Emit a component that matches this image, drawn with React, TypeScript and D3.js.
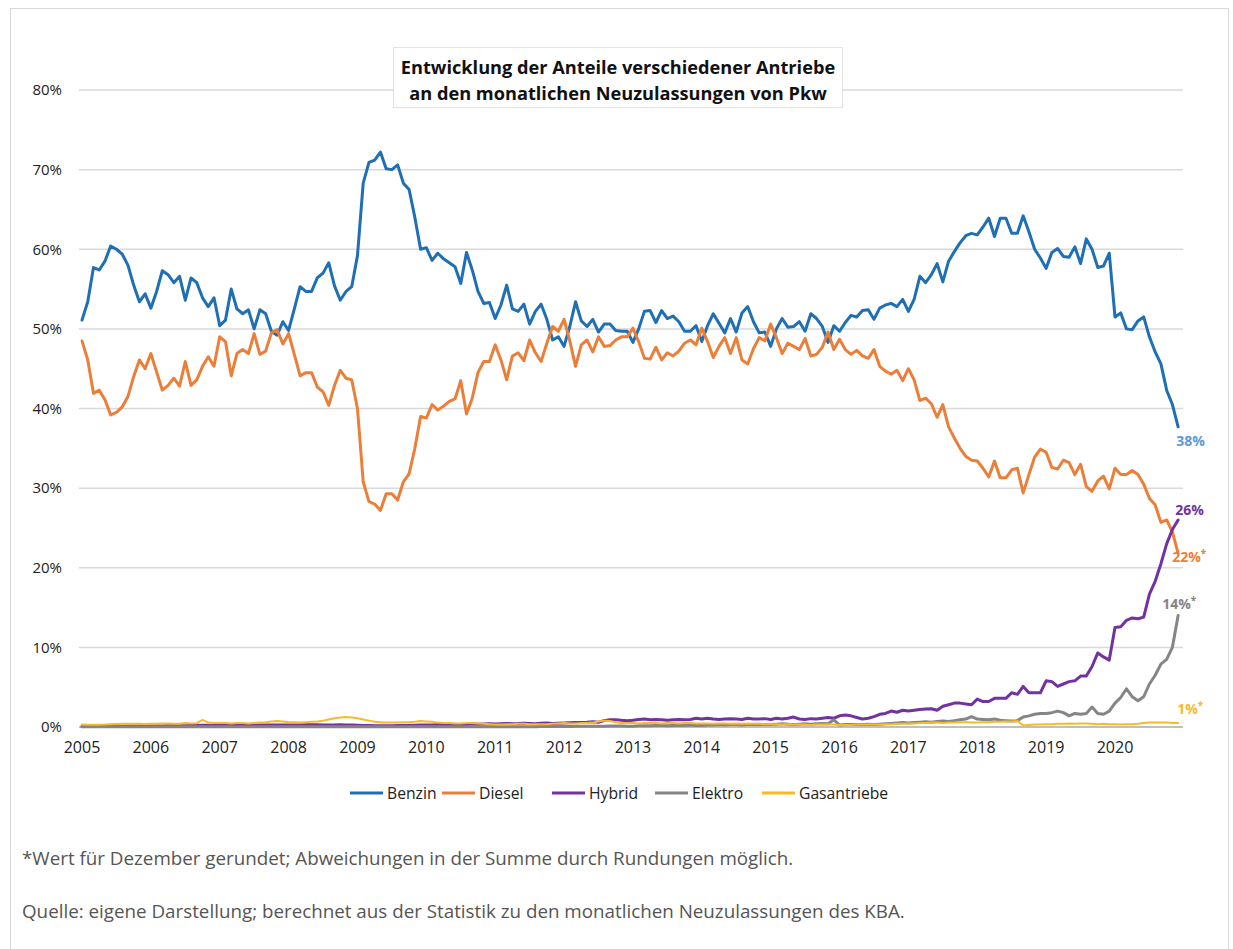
import React from 'react';
import * as d3 from 'd3';

// monthly shares in %, Jan 2005 .. Dec 2020
const benzin = [
  51.1, 53.4, 57.7, 57.4, 58.5, 60.4, 60.0, 59.4, 58.0, 55.5, 53.4, 54.4,
  52.6, 54.7, 57.3, 56.8, 55.8, 56.6, 53.6, 56.4, 55.8, 53.9, 52.8, 53.9,
  50.4, 51.1, 55.0, 52.5, 51.9, 52.4, 50.0, 52.4, 51.9, 49.7, 49.2, 50.9,
  49.8, 52.5, 55.3, 54.7, 54.7, 56.4, 57.0, 58.3, 55.4, 53.6, 54.7, 55.3,
  59.2, 68.3, 70.9, 71.2, 72.2, 70.1, 70.0, 70.6, 68.3, 67.5, 64.0, 60.0,
  60.2, 58.6, 59.5, 58.8, 58.3, 57.8, 55.7, 59.6, 57.4, 54.7, 53.2, 53.3,
  51.3, 53.0, 55.5, 52.5, 52.2, 53.1, 50.6, 52.2, 53.1, 51.2, 48.6, 49.0,
  47.8, 50.3, 53.4, 51.0, 50.3, 51.2, 49.6, 50.6, 50.6, 49.8, 49.7, 49.7,
  48.3, 50.0, 52.2, 52.3, 50.8, 52.3, 51.3, 51.6, 50.9, 49.7, 49.7, 50.4,
  48.4, 50.4, 51.9, 50.7, 49.5, 51.3, 49.6, 52.0, 52.8, 50.9, 49.5, 49.6,
  47.8, 50.0, 51.3, 50.2, 50.3, 50.9, 49.7, 51.9, 51.3, 50.3, 48.3, 50.4,
  49.7, 50.8, 51.7, 51.5, 52.3, 52.4, 51.2, 52.6, 53.0, 53.2, 52.8, 53.7,
  52.2, 53.7, 56.6, 55.8, 56.8, 58.2, 55.9, 58.5, 59.7, 60.8, 61.7, 62.0,
  61.8, 62.8, 63.9, 61.6, 63.9, 63.9, 62.0, 62.0, 64.2, 62.2, 60.0, 58.9,
  57.6, 59.6, 60.1, 59.1, 59.0, 60.3, 58.2, 61.3, 60.0, 57.7, 57.9, 59.5,
  51.5, 52.0, 50.0, 49.9, 51.0, 51.5, 49.0, 47.1, 45.6, 42.3, 40.5, 37.7,
];

const diesel = [
  48.5, 46.1, 41.9, 42.3, 41.1, 39.2, 39.5, 40.2, 41.5, 44.0, 46.1, 45.0,
  46.9, 44.6, 42.3, 42.9, 43.8, 42.8, 45.9, 42.9, 43.6, 45.3, 46.5, 45.3,
  49.0, 48.4, 44.1, 46.9, 47.4, 46.9, 49.4, 46.8, 47.2, 49.5, 49.9, 48.1,
  49.4, 46.8, 44.1, 44.5, 44.5, 42.7, 42.1, 40.4, 42.9, 44.8, 43.8, 43.6,
  40.0, 30.8, 28.3, 28.0, 27.2, 29.3, 29.3, 28.5, 30.8, 31.8, 35.0, 39.0,
  38.8, 40.5, 39.8, 40.3, 40.9, 41.2, 43.5, 39.3, 41.3, 44.5, 45.9, 45.9,
  48.0, 46.1, 43.6, 46.6, 47.0, 46.0, 48.6, 47.0, 45.9, 48.2, 50.3, 49.7,
  51.2, 48.5, 45.3, 48.0, 48.6, 47.1, 49.0, 47.8, 47.9, 48.6, 49.0, 49.0,
  50.1, 48.4, 46.3, 46.2, 47.7, 46.1, 47.0, 46.6, 47.2, 48.2, 48.6, 48.0,
  50.1, 48.4, 46.4, 47.8, 48.9, 46.9, 48.9, 46.1, 45.6, 47.5, 48.9, 48.5,
  50.6, 48.9, 46.9, 48.2, 47.8, 47.4, 48.8, 46.6, 46.8, 47.7, 49.6, 47.4,
  48.7, 47.4, 46.8, 47.3, 46.6, 46.3, 47.4, 45.3, 44.7, 44.3, 44.8, 43.5,
  45.0, 43.6, 41.0, 41.3, 40.6, 38.9, 40.5, 37.7, 36.3, 35.0, 34.0, 33.5,
  33.4, 32.5, 31.4, 33.4, 31.3, 31.3, 32.3, 32.5, 29.4, 31.7, 33.9, 34.9,
  34.5, 32.6, 32.4, 33.5, 33.2, 31.7, 33.0, 30.2, 29.6, 30.9, 31.5, 29.9,
  32.5, 31.7, 31.7, 32.2, 31.7, 30.5, 28.7, 27.9, 25.7, 26.0, 24.5, 21.8,
];

const hybrid = [
  0.08, 0.09, 0.1, 0.1, 0.1, 0.11, 0.1, 0.1, 0.11, 0.12, 0.12, 0.12,
  0.12, 0.13, 0.14, 0.15, 0.16, 0.16, 0.17, 0.18, 0.2, 0.22, 0.22, 0.2,
  0.2, 0.22, 0.24, 0.25, 0.25, 0.24, 0.23, 0.24, 0.25, 0.26, 0.25, 0.24,
  0.24, 0.25, 0.26, 0.27, 0.28, 0.27, 0.26, 0.25, 0.26, 0.27, 0.25, 0.24,
  0.22, 0.2, 0.18, 0.17, 0.16, 0.16, 0.17, 0.18, 0.19, 0.2, 0.22, 0.24,
  0.25, 0.26, 0.27, 0.28, 0.28, 0.29, 0.3, 0.32, 0.4, 0.35, 0.38, 0.4,
  0.38, 0.42, 0.45, 0.42, 0.44, 0.48, 0.45, 0.42, 0.48, 0.5, 0.45, 0.48,
  0.5, 0.52, 0.55, 0.58, 0.6, 0.65, 0.6, 0.8, 0.9, 0.92, 0.85, 0.8,
  0.85, 0.95, 1.0, 0.9, 0.95, 0.9, 0.85, 0.9, 0.95, 0.9, 0.95, 1.1,
  1.0, 1.1, 1.0, 0.95, 1.0, 1.05, 1.0, 0.95, 1.1, 1.0, 1.0, 1.05,
  0.95, 1.1, 1.0, 1.1, 1.25, 1.0, 0.95, 1.05, 1.0, 1.1, 1.2, 1.1,
  1.4, 1.5, 1.4, 1.2, 1.0, 1.1, 1.3, 1.6, 1.7, 2.0, 1.85, 2.1,
  2.0, 2.1, 2.2, 2.25, 2.3, 2.1, 2.6, 2.8, 3.0, 3.0, 2.9, 2.8,
  3.5, 3.2, 3.2, 3.6, 3.6, 3.6, 4.3, 4.1, 5.1, 4.3, 4.3, 4.3,
  5.8, 5.7, 5.1, 5.4, 5.7, 5.8, 6.4, 6.4, 7.6, 9.3, 8.8, 8.4,
  12.5, 12.6, 13.4, 13.7, 13.6, 13.8, 16.7, 18.3, 20.5, 23.0, 24.8, 26.0,
];

const elektro = [
  0.02, 0.02, 0.02, 0.02, 0.02, 0.02, 0.02, 0.02, 0.02, 0.02, 0.02, 0.02,
  0.02, 0.02, 0.02, 0.02, 0.02, 0.02, 0.02, 0.02, 0.02, 0.02, 0.02, 0.02,
  0.02, 0.02, 0.02, 0.02, 0.02, 0.02, 0.02, 0.02, 0.02, 0.02, 0.02, 0.02,
  0.02, 0.02, 0.02, 0.02, 0.02, 0.02, 0.02, 0.02, 0.02, 0.02, 0.02, 0.02,
  0.02, 0.02, 0.02, 0.02, 0.02, 0.02, 0.02, 0.02, 0.02, 0.02, 0.02, 0.02,
  0.03, 0.03, 0.03, 0.03, 0.03, 0.03, 0.03, 0.03, 0.03, 0.03, 0.03, 0.03,
  0.03, 0.03, 0.04, 0.04, 0.04, 0.04, 0.04, 0.04, 0.05, 0.05, 0.05, 0.05,
  0.05, 0.05, 0.08, 0.08, 0.1, 0.1, 0.1, 0.1, 0.12, 0.12, 0.12, 0.1,
  0.1, 0.15, 0.15, 0.15, 0.2, 0.2, 0.15, 0.2, 0.2, 0.2, 0.25, 0.2,
  0.2, 0.25, 0.25, 0.3, 0.25, 0.3, 0.3, 0.25, 0.3, 0.3, 0.35, 0.3,
  0.3, 0.35, 0.4, 0.35, 0.3, 0.35, 0.4, 0.35, 0.4, 0.45, 0.4, 0.9,
  0.25, 0.3, 0.3, 0.3, 0.3, 0.35, 0.3, 0.35, 0.4, 0.45, 0.5, 0.55,
  0.5, 0.55, 0.6, 0.65, 0.6, 0.7, 0.75, 0.7, 0.8, 0.9, 1.0, 1.3,
  1.0, 0.95, 0.9, 1.0, 0.85, 0.8, 0.75, 0.8, 1.25, 1.4, 1.6, 1.7,
  1.7, 1.8, 2.0, 1.8, 1.4, 1.7, 1.6, 1.7, 2.5, 1.7, 1.6, 2.0,
  3.0, 3.7, 4.8, 3.8, 3.3, 3.8, 5.4, 6.5, 7.9, 8.5, 10.0, 14.0,
];

const gas = [
  0.3, 0.28, 0.27, 0.27, 0.3, 0.35, 0.38, 0.4, 0.4, 0.42, 0.4, 0.38,
  0.4, 0.42, 0.45, 0.45, 0.42, 0.4, 0.5, 0.45, 0.48, 0.9, 0.55, 0.5,
  0.5, 0.5, 0.45, 0.5, 0.5, 0.45, 0.5, 0.55, 0.6, 0.7, 0.75, 0.7,
  0.6, 0.6, 0.55, 0.6, 0.65, 0.7, 0.8, 0.95, 1.1, 1.2, 1.25, 1.2,
  1.1, 0.95, 0.8, 0.65, 0.6, 0.55, 0.55, 0.55, 0.6, 0.6, 0.65, 0.75,
  0.7, 0.65, 0.55, 0.5, 0.5, 0.45, 0.45, 0.5, 0.5, 0.45, 0.4, 0.35,
  0.3, 0.3, 0.35, 0.35, 0.4, 0.4, 0.35, 0.35, 0.35, 0.35, 0.4, 0.45,
  0.5, 0.45, 0.45, 0.5, 0.5, 0.55, 0.7, 0.8, 0.75, 0.6, 0.5, 0.5,
  0.5, 0.45, 0.5, 0.5, 0.5, 0.45, 0.5, 0.5, 0.45, 0.5, 0.5, 0.45,
  0.45, 0.45, 0.4, 0.45, 0.45, 0.4, 0.45, 0.4, 0.45, 0.4, 0.4, 0.35,
  0.35, 0.35, 0.3, 0.35, 0.3, 0.3, 0.3, 0.25, 0.3, 0.3, 0.3, 0.3,
  0.25, 0.25, 0.25, 0.3, 0.3, 0.3, 0.3, 0.3, 0.35, 0.35, 0.4, 0.4,
  0.45, 0.45, 0.5, 0.5, 0.55, 0.55, 0.5, 0.55, 0.55, 0.6, 0.6, 0.55,
  0.55, 0.6, 0.6, 0.65, 0.65, 0.7, 0.7, 0.75, 0.2, 0.25, 0.3, 0.3,
  0.35, 0.35, 0.4, 0.4, 0.45, 0.4, 0.45, 0.45, 0.4, 0.35, 0.4, 0.35,
  0.35, 0.3, 0.35, 0.35, 0.4, 0.5, 0.55, 0.55, 0.55, 0.55, 0.5, 0.5,
];

const seriesNames = ['Benzin', 'Diesel', 'Hybrid', 'Elektro', 'Gasantriebe'];
const seriesColors = ['#1f6fb4', '#eb7f3a', '#7232a0', '#858585', '#f8b92a'];
const endLabels = ['38%', '22%', '26%', '14%', '1%'];
const endLabelStar = [false, true, false, true, true];
const endLabelColors = ['#5b9bd5', '#eb7f3a', '#7232a0', '#858585', '#f8b92a'];
const years = d3.range(2005, 2021);
const yTicks = [0, 10, 20, 30, 40, 50, 60, 70, 80];
const titleLines = [
  'Entwicklung der Anteile verschiedener Antriebe',
  'an den monatlichen Neuzulassungen von Pkw',
];
const footnote = '*Wert für Dezember gerundet; Abweichungen in der Summe durch Rundungen möglich.';
const source = 'Quelle: eigene Darstellung; berechnet aus der Statistik zu den monatlichen Neuzulassungen des KBA.';

const font = '"Open Sans", "Noto Sans", sans-serif';

const App = () => {
  const width = 1233;
  const height = 949;
  const data = [benzin, diesel, hybrid, elektro, gas];
  const strokeW = [3, 3, 3, 3, 2];

  const x = d3.scaleLinear().domain([0, 180]).range([82, 1115]);
  const y = d3.scaleLinear().domain([0, 80]).range([727, 90]);

  const line = d3
    .line<number>()
    .x((d, i) => x(i))
    .y((d) => y(d));

  // label offsets relative to the line ends
  const labelDx = [-2, -6, -3, -16, -1];
  const labelDy = [19, 9, -5, -7, -9];

  const legendX = [350, 442, 552, 655, 762];

  return (
    <svg
      width={width}
      height={height}
      style={{ position: 'absolute', left: 0, top: 0, background: '#fff' }}
      fontFamily={font}
    >
      <rect x={10.5} y={8.5} width={1218} height={960} fill='#fff' stroke='#d9d9d9' />

      {yTicks.map((t) => (
        <g key={t}>
          <line
            x1={79}
            x2={1183}
            y1={y(t)}
            y2={y(t)}
            stroke={t === 0 ? '#bfbfbf' : '#d9d9d9'}
            strokeWidth={t === 0 ? 2 : 1.5}
          />
          <text x={62} y={y(t)} dy='0.35em' textAnchor='end' fontSize={15} fill='#222'>
            {t}%
          </text>
        </g>
      ))}

      {years.map((yr) => (
        <text
          key={yr}
          x={x((yr - 2005) * 12)}
          y={753}
          textAnchor='middle'
          fontSize={16}
          fill='#222'
        >
          {yr}
        </text>
      ))}

      {data.map((s, k) => (
        <path
          key={seriesNames[k]}
          d={line(s) || ''}
          fill='none'
          stroke={seriesColors[k]}
          strokeWidth={strokeW[k]}
          strokeLinejoin='round'
          strokeLinecap='round'
        />
      ))}

      {data.map((s, k) => (
        <text
          key={'lab' + k}
          x={x(s.length - 1) + labelDx[k]}
          y={y(s[s.length - 1]) + labelDy[k]}
          fontSize={14}
          fontWeight='bold'
          fill={endLabelColors[k]}
        >
          {endLabels[k]}
          {endLabelStar[k] && (
            <tspan fontSize={10} dy={-5}>
              *
            </tspan>
          )}
        </text>
      ))}

      <rect x={393.5} y={47.5} width={449} height={60} fill='#fff' stroke='#e3e3e3' />
      {titleLines.map((t, i) => (
        <text
          key={t}
          x={618}
          y={74 + i * 26}
          textAnchor='middle'
          fontSize={18.2}
          fontWeight='bold'
          fill='#111'
        >
          {t}
        </text>
      ))}

      {seriesNames.map((n, k) => (
        <g key={n} transform={`translate(${legendX[k]},793)`}>
          <line x1={0} x2={33} y1={0} y2={0} stroke={seriesColors[k]} strokeWidth={3} />
          <text x={37} y={0} dy='0.35em' fontSize={15.7} fill='#222'>
            {n}
          </text>
        </g>
      ))}

      <text x={22} y={865} fontSize={18.8} fill='#555'>
        {footnote}
      </text>
      <text x={22} y={918} fontSize={18.8} fill='#555'>
        {source}
      </text>
    </svg>
  );
};

export default App;
